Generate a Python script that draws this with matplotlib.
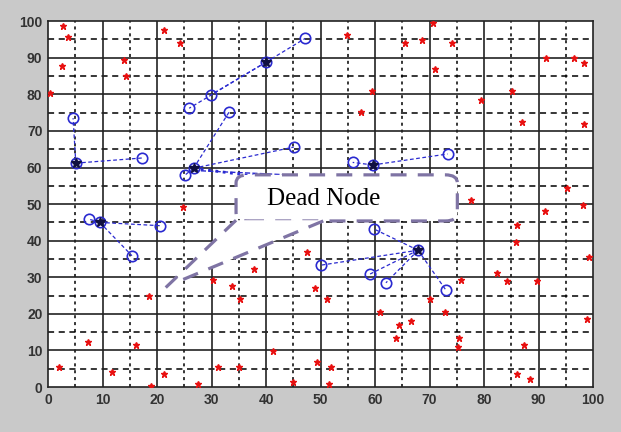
import matplotlib.pyplot as plt
from matplotlib.patches import FancyBboxPatch, Polygon

# nodos normales (puntos rojos)
node_x = [2.75, 3.7, 2.5, 0.4, 14.0, 14.3, 21.3, 24.2, 24.8, 54.8, 59.5, 57.4, 65.5,
          70.7, 68.6, 74.2, 71.0, 79.4, 85.1, 86.9, 91.4, 96.5, 98.4, 98.4, 77.6, 95.2,
          98.2, 91.2, 86.1, 85.9, 99.3, 82.4, 84.3, 89.7, 75.8, 70.1, 72.8, 66.6, 98.8,
          75.4, 87.3, 75.2, 86.0, 88.4, 37.4, 47.5, 37.8, 30.3, 33.7, 35.2, 48.9, 51.1,
          60.9, 64.4, 63.9, 41.2, 31.1, 35.1, 49.3, 51.9, 45.0, 51.6, 18.6, 7.4, 16.1,
          2.1, 11.8, 21.2, 18.9, 27.6]
node_y = [98.6, 95.7, 87.8, 80.4, 89.5, 85.0, 97.7, 93.9, 49.2, 96.3, 81.0, 75.2, 93.9,
          99.5, 94.8, 93.9, 86.9, 78.4, 81.0, 72.5, 89.8, 89.8, 88.6, 71.9, 51.1, 54.5,
          49.7, 48.2, 44.4, 39.7, 35.6, 31.1, 29.0, 29.0, 29.2, 24.2, 20.4, 18.1, 18.5,
          13.5, 11.4, 11.0, 3.6, 2.2, 43.8, 36.8, 32.2, 29.2, 27.7, 24.2, 27.1, 24.2,
          20.4, 16.9, 13.5, 9.9, 5.5, 5.5, 6.9, 5.5, 1.4, 0.8, 24.9, 12.2, 11.4,
          5.5, 4.0, 3.5, 0.3, 0.8]

# cabezas de cluster
head_x = [5.1, 9.5, 26.7, 40.0, 59.6, 67.9]
head_y = [61.2, 45.0, 59.8, 88.8, 60.7, 37.4]

# miembros de cada cluster
members = [
    [(4.6, 73.5), (17.2, 62.6)],
    [(7.5, 45.9), (20.6, 44.1), (15.4, 35.9)],
    [(25.1, 57.9), (33.2, 75.1), (45.1, 65.6)],
    [(25.9, 76.2), (29.9, 79.9), (47.2, 95.3)],
    [(55.9, 61.4), (73.3, 63.7)],
    [(59.8, 43.2), (50.0, 33.3), (59.1, 30.9), (62.0, 28.5), (73.0, 26.5)],
]
dead_node = (44.0, 56.5)

ticks = [0, 10, 20, 30, 40, 50, 60, 70, 80, 90, 100]

fig = plt.figure(figsize=(6.21, 4.32), dpi=100, facecolor='#c9c9c9')
ax = fig.add_axes([0.0773, 0.104, 0.8777, 0.847])
ax.set_facecolor('white')

# rejilla
for v in range(5, 100, 10):
    ax.axvline(v, color='black', lw=1.1, ls=(0, (2, 2.5)), zorder=1)
    ax.axhline(v, color='black', lw=1.1, ls=(0, (4, 3)), zorder=1)
for v in range(10, 100, 10):
    ax.axvline(v, color='#222222', lw=1.2, zorder=1)
    ax.axhline(v, color='#222222', lw=1.2, zorder=1)

ax.plot(node_x, node_y, '*', color='#e81010', ms=5, mew=1.0, ls='none', zorder=3)

blue = '#2a2ad0'
for hx, hy, mem in zip(head_x, head_y, members):
    for mx, my in mem:
        ax.plot([hx, mx], [hy, my], '--', color=blue, lw=0.9, dashes=(3, 2), zorder=2)
    ax.plot([m[0] for m in mem], [m[1] for m in mem], 'o', ms=7.5, mfc='none',
            mec=blue, mew=1.2, ls='none', zorder=4)

# enlaces hacia el nodo muerto
ax.plot([head_x[2], dead_node[0]], [head_y[2], dead_node[1]], ':', color=blue, lw=2, zorder=2)
ax.plot([head_x[2], dead_node[0]], [head_y[2] - 0.6, dead_node[1] + 1.5], '--', color=blue, lw=1, zorder=2)

ax.plot(head_x, head_y, 'o', ms=7.5, mfc='none', mec=blue, mew=1.2, ls='none', zorder=4)
ax.plot(head_x, head_y, '*', ms=7.5, color='#101040', ls='none', zorder=5)

# globo "Dead Node"
edge = '#7f74a4'
box = FancyBboxPatch((34.5, 45.4), 40.6, 12.6, boxstyle='round,pad=0,rounding_size=2.2',
                     facecolor='white', edgecolor=edge, lw=2.3, ls=(0, (5, 3.5)), zorder=6)
ax.add_patch(box)
tail = Polygon([(34.8, 45.6), (21.6, 27.2), (50.4, 45.6)], closed=True,
               facecolor='white', edgecolor='none', zorder=7)
ax.add_patch(tail)
ax.plot([34.5, 21.6], [45.6, 27.2], color=edge, lw=2.3, ls=(0, (5, 3.5)), zorder=8)
ax.plot([50.5, 23.5], [45.4, 28.6], color=edge, lw=2.3, ls=(0, (5, 3.5)), zorder=8)
ax.text(50.5, 51.4, 'Dead Node', family='Liberation Serif', fontsize=18,
        ha='center', va='center', zorder=9)

ax.set_xlim(0, 100)
ax.set_ylim(0, 100)
ax.set_xticks(ticks)
ax.set_yticks(ticks)
ax.tick_params(length=0, pad=4, labelsize=10, labelcolor='#333333')
for lab in ax.get_xticklabels() + ax.get_yticklabels():
    lab.set_fontweight('bold')
    lab.set_family('Liberation Sans')
for s in ax.spines.values():
    s.set_color('#222222')
    s.set_linewidth(1.2)

fig.savefig('out.png', dpi=100, facecolor=fig.get_facecolor())
